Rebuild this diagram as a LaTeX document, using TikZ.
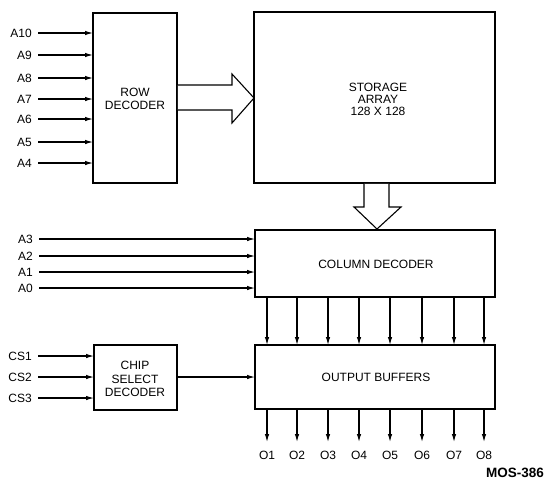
\documentclass[tikz,border=0pt]{standalone}
\usepackage{fontspec}
\setmainfont{Liberation Sans}
\usetikzlibrary{arrows.meta}
\begin{document}
\begin{tikzpicture}[x=1pt,y=-1pt,
  blk/.style={draw,line width=1.6pt,inner sep=0pt},
  sig/.style={line width=1.1pt,-{Latex[length=8pt,width=4.5pt]}},
  lbl/.style={font=\fontsize{12}{13}\selectfont,inner sep=0pt},
  fat/.style={draw,line width=1.1pt,fill=white,line join=miter}]
\useasboundingbox (0,0) rectangle (545,480);
% blocks
\draw[blk] (93,13) rectangle (177,183);
\node[lbl,align=center] (rowt) at (135,99) {ROW\\DECODER};
\draw[blk] (254,12) rectangle (495,183);
\node[lbl,align=center,font=\fontsize{12}{12}\selectfont] (stor) at (378,99) {STORAGE\\ARRAY\\128 X 128};
\draw[blk] (255,230) rectangle (495,297);
\node[lbl] (col) at (376,264) {COLUMN DECODER};
\draw[blk] (255,345) rectangle (495,409);
\node[lbl] (out) at (376,377) {OUTPUT BUFFERS};
\draw[blk] (94,345) rectangle (177,410);
\node[lbl,align=center,font=\fontsize{12}{13.5}\selectfont] (cs) at (135,379) {CHIP\\SELECT\\DECODER};
% row inputs
\foreach \n/\y in {A10/33,A9/55,A8/78,A7/99,A6/119,A5/142,A4/163}{
  \node[lbl,anchor=east] (\n) at (32,\y) {\n};
  \coordinate (\n e) at (93,\y);
  \draw[sig] (38,\y) -- (\n e);
}
% column inputs
\foreach \n/\y in {A3/239,A2/256,A1/272,A0/288}{
  \node[lbl,anchor=east] (\n) at (33,\y) {\n};
  \coordinate (\n e) at (255,\y);
  \draw[sig] (39,\y) -- (\n e);
}
% chip select inputs
\foreach \n/\y in {CS1/356,CS2/377,CS3/398}{
  \node[lbl,anchor=east] (\n) at (32,\y) {\n};
  \coordinate (\n e) at (94,\y);
  \draw[sig] (38,\y) -- (\n e);
}
\draw[sig] (177,377) -- (255,377);
% big arrows
\draw[fat] (177.8,85) -- (232,85) -- (232,74) -- (254,98) -- (232,123) -- (232,110) -- (177.8,110);
\draw[fat] (364,183.8) -- (364,207) -- (354,207) -- (377,229) -- (401,207) -- (389,207) -- (389,183.8);
% data lines
\foreach \i/\x in {1/267,2/297,3/328,4/359,5/390,6/422,7/454,8/484}{
  \draw[sig] (\x,297.8) -- (\x,345);
  \draw[sig] (\x,409.8) -- (\x,442);
  \node[lbl] (O\i) at (\x,455) {O\i};
}
\node[font=\bfseries\fontsize{13.5}{14}\selectfont,inner sep=0pt,anchor=east] (mos) at (544,473) {MOS-386};
\end{tikzpicture}
\end{document}
